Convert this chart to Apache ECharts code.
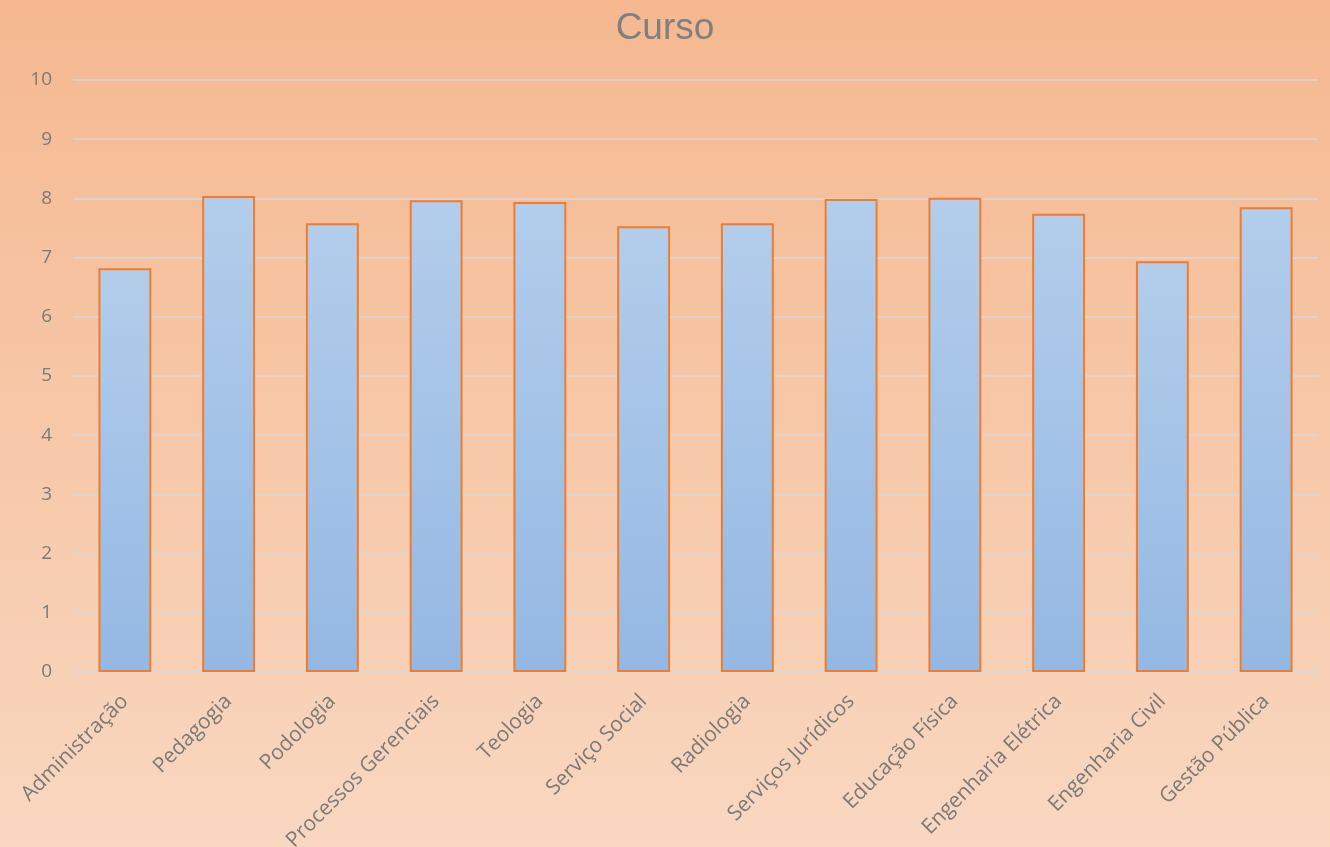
<!DOCTYPE html>
<html>
<head>
<meta charset="utf-8">
<script src="https://cdn.jsdelivr.net/npm/echarts@6/dist/echarts.min.js"></script>
<style>
  html, body { margin: 0; padding: 0; }
  #chart { width: 1330px; height: 847px; }
</style>
</head>
<body>
<div id="chart"></div>
<script>
var cursos = ['Administração', 'Pedagogia', 'Podologia', 'Processos Gerenciais', 'Teologia',
  'Serviço Social', 'Radiologia', 'Serviços Jurídicos', 'Educação Física',
  'Engenharia Elétrica', 'Engenharia Civil', 'Gestão Pública'];
var notas = [6.82, 8.04, 7.58, 7.97, 7.94, 7.53, 7.58, 7.99, 8.01, 7.74, 6.94, 7.85];

var chart = echarts.init(document.getElementById('chart'));
var option = {
  backgroundColor: new echarts.graphic.LinearGradient(0, 0, 0, 1, [
    { offset: 0, color: '#F5B890' },
    { offset: 1, color: '#F9D7C0' }
  ]),
  title: {
    text: 'Curso',
    left: 'center',
    top: 5,
    textStyle: { fontFamily: 'Liberation Sans', fontSize: 37, fontWeight: 'normal', color: '#7F7F7F' }
  },
  grid: { left: 73, right: 12, top: 80, bottom: 175, containLabel: false, outerBoundsMode: 'none' },
  xAxis: {
    type: 'category',
    data: cursos,
    axisLine: { lineStyle: { color: '#D9D9D9', width: 1.5 } },
    axisTick: { show: false },
    axisLabel: {
      interval: 0,
      rotate: 45,
      margin: 26,
      fontFamily: 'Open Sans',
      fontSize: 21,
      color: '#7A7A7A'
    }
  },
  yAxis: {
    type: 'value',
    min: 0,
    max: 10,
    interval: 1,
    axisLine: { show: false },
    axisTick: { show: false },
    splitLine: { lineStyle: { color: '#D9D9D9', width: 1.5 } },
    axisLabel: { fontFamily: 'Open Sans', fontSize: 19, color: '#7A7A7A', margin: 21 }
  },
  series: [{
    type: 'bar',
    data: notas,
    barWidth: '51%',
    itemStyle: {
      color: new echarts.graphic.LinearGradient(0, 0, 0, 1, [
        { offset: 0, color: '#B3CDEB' },
        { offset: 1, color: '#94B8E3' }
      ]),
      borderColor: '#ED7D31',
      borderWidth: 2
    }
  }]
};
chart.setOption(option);
</script>
</body>
</html>
